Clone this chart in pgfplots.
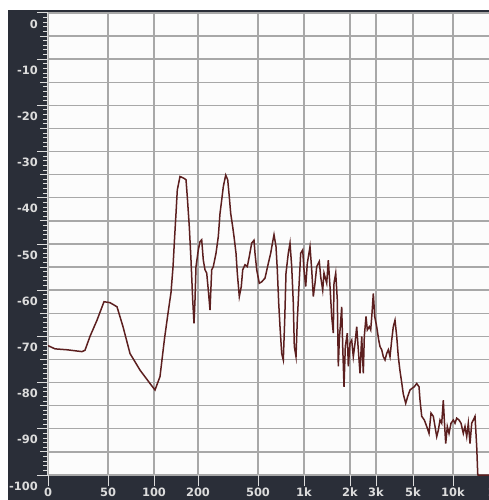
\documentclass[border=0pt]{standalone}
\usepackage{fontspec}
\setmainfont{DejaVu Sans}
\usepackage{pgfplots}
\pgfplotsset{compat=1.18}
\definecolor{panel}{HTML}{2A2E38}
\definecolor{gridc}{HTML}{A8A8A8}
\definecolor{curve}{HTML}{5C1F1F}
\definecolor{tickc}{HTML}{DCDCDC}
\definecolor{plotbg}{HTML}{FCFCFC}
\pgfplotstableread{
x y
48 -72.0
55 -72.7
67 -72.9
82 -73.3
85 -73.0
90 -70.0
97 -66.5
104 -62.5
110 -62.7
117 -63.6
123 -67.9
130 -73.7
140 -77.3
150 -80.2
155 -81.6
160 -78.7
164.5 -70.5
168 -65.0
171 -60.5
173 -55.0
174.5 -49.0
176 -43.4
177.3 -38.3
180 -35.4
184 -35.8
186 -36.1
187.3 -39.8
189.3 -46.3
191 -53.5
192.7 -62.1
194 -67.2
195 -62.1
196 -54.9
198.3 -51.3
200 -49.5
201.7 -49.1
203.3 -53.5
205 -55.6
206.7 -56.3
208.3 -60.0
210 -64.3
211.7 -55.6
213.3 -54.9
216 -52.0
218.3 -48.4
220 -43.4
221.7 -40.5
223.3 -37.6
225.7 -35.1
227.7 -36.1
229.3 -39.8
230.7 -43.4
232.7 -46.3
234 -48.4
236 -52.0
237.3 -56.3
239.3 -61.4
241.3 -59.2
242.7 -55.6
245 -54.5
247.3 -54.9
249.3 -52.7
251.7 -49.8
254 -49.2
255 -52.0
256.7 -55.6
259.3 -58.5
261.7 -58.2
265 -57.4
268.3 -54.2
270.7 -52.0
272.7 -49.5
274 -48.0
276 -50.6
277.3 -55.6
278.7 -62.8
280 -67.9
281.7 -73.7
283.3 -75.1
284.7 -66.5
286 -56.3
288.3 -52.0
290 -49.8
291.7 -54.9
293.3 -62.8
294.3 -72.2
296 -74.4
297.3 -66.5
299.3 -57.8
300.7 -52.0
302.7 -51.3
304 -55.6
305.7 -59.2
307.3 -54.2
310 -50.6
311.7 -55.6
313.3 -61.4
315 -58.5
316.7 -54.9
319.3 -53.8
320.7 -57.1
322.7 -60.0
324 -56.3
326.7 -58.5
328.3 -53.5
330 -59.2
331.7 -65.7
333.3 -69.3
334 -58.5
335.7 -56.3
337.3 -62.1
338.3 -76.5
339.3 -70.8
341.7 -63.6
342.7 -72.2
344 -80.9
345.3 -72.2
347.3 -69.3
348.3 -76.5
350 -71.5
351.7 -70.8
353.3 -74.4
355 -71.5
356.7 -67.9
358.3 -72.9
360 -78.0
361.7 -70.0
363.3 -78.0
364.3 -70.0
366 -65.7
367.3 -68.6
369.3 -67.9
370.7 -68.6
372 -65.0
373.3 -60.7
374.7 -65.7
376.7 -67.9
378.7 -70.8
380 -72.2
381.7 -72.9
383.3 -74.4
385 -75.1
386.7 -73.7
388.3 -72.9
390 -74.4
391.7 -70.8
393.3 -67.9
395 -66.5
396.7 -70.0
398.3 -74.4
400 -77.5
401.7 -80.0
403.3 -82.5
405.7 -84.5
407.7 -83.0
410 -81.6
412.3 -81.2
414.3 -80.9
416.7 -80.2
419 -80.9
420 -83.8
421.7 -87.3
424.3 -88.1
426.7 -89.5
429 -91.0
431 -86.6
433.3 -87.3
435 -89.5
436.7 -91.7
438.3 -90.3
440 -88.1
441.7 -88.8
443.3 -83.8
444.3 -88.1
445.7 -93.2
447.3 -89.5
449 -91.0
451 -88.8
453.3 -88.1
455 -88.8
456.7 -87.7
459 -88.1
461 -88.8
463.3 -91.0
465 -89.5
466.7 -91.7
468.3 -88.8
470 -93.2
471.7 -88.8
473.3 -88.1
475 -87.3
476.7 -93.9
477.7 -99.7
478 -100
489 -100
}\spectrum
\begin{document}
\begin{tikzpicture}[x=1bp,y=1bp]
\useasboundingbox (-48,-25) rectangle (441,475);
\fill[panel] (-40,-25) rectangle (441,465);
\begin{axis}[
  at={(0,0)}, anchor=south west,
  scale only axis, width=441bp, height=463bp,
  xmin=48, xmax=489, ymin=-100, ymax=0.2,
  clip=false,
  axis background/.style={fill=plotbg},
  axis line style={draw=none},
  tick pos=left,
  tick align=outside,
  major tick length=11bp, minor tick length=5bp,
  tick style={tickc, line width=0.9bp},
  ytick={-100,-90,...,0},
  yticklabels={-100,-90,-80,-70,-60,-50,-40,-30,-20,-10,0},
  minor y tick num=9,
  extra y ticks={-95,-85,-75,-65,-55,-45,-35,-25,-15,-5},
  extra y tick labels={},
  extra y tick style={major tick length=8bp, grid=major},
  xtick={48,108,154,198,258,304,350,376,413,453},
  xticklabels={0,50,100,200,500,1k,2k,3k,5k,10k},
  xmajorgrids, ymajorgrids,
  grid style={gridc, line width=1.4bp},
  tick label style={font=\bfseries\fontsize{11.5}{13}\selectfont, text=tickc, inner sep=0pt},
  yticklabel style={anchor=east, yshift=-11bp, xshift=1bp},
  xticklabel style={anchor=north, yshift=-2bp},
]
\addplot[curve, line width=1.5bp] table[x=x,y=y] {\spectrum};
\draw[tickc, line width=1bp] (rel axis cs:0,0) -- (rel axis cs:0,1);
\node[anchor=north, font=\bfseries\fontsize{11.5}{13}\selectfont, text=tickc, inner sep=0pt] at (axis cs:500,-100) [yshift=-13bp] {20k};
\end{axis}
\end{tikzpicture}
\end{document}
